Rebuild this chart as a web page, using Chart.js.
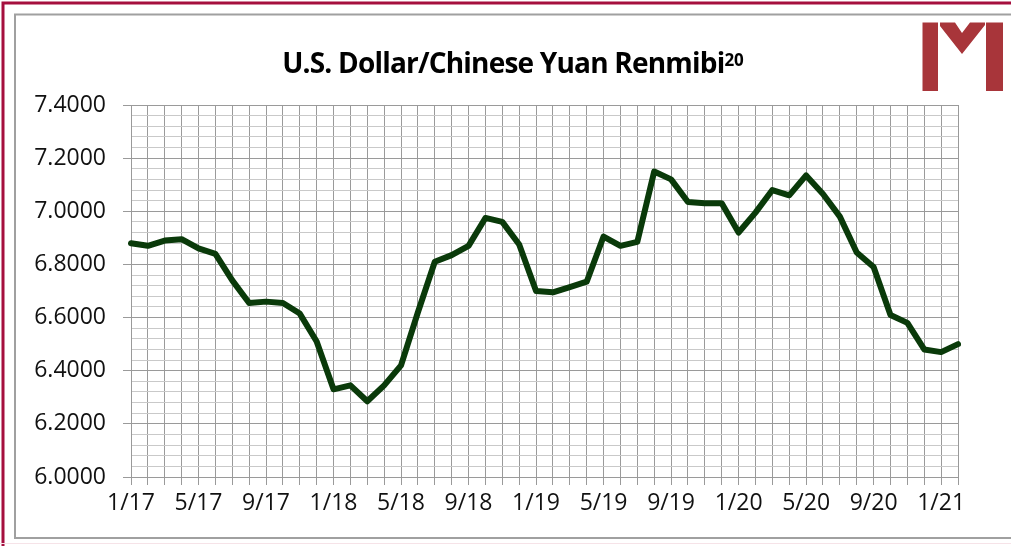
<!DOCTYPE html>
<html>
<head>
<meta charset="utf-8">
<script src="https://cdn.jsdelivr.net/npm/chart.js@4/dist/chart.umd.min.js"></script>
<style>
  html, body { margin: 0; padding: 0; background: #fff; }
  #wrap { position: relative; width: 1011px; height: 546px; overflow: hidden; background: #fff; }
  #c { position: absolute; left: 0; top: 0; }
  #deco { position: absolute; left: 0; top: 0; pointer-events: none; }
  #title { position: absolute; left: 513px; top: 45px; transform: translateX(-50%);
           font-family: "Open Sans", "DejaVu Sans", sans-serif; font-weight: 700; font-size: 28px;
           line-height: 34px; color: #000; white-space: nowrap; letter-spacing: -0.8px; }
  #title sup { font-size: 17px; position: relative; top: -2px; vertical-align: top; letter-spacing: 0; }
</style>
</head>
<body>
<div id="wrap">
  <canvas id="c" width="1011" height="546"></canvas>
  <svg id="deco" width="1011" height="546" viewBox="0 0 1011 546">
    <rect x="3" y="3" width="1020" height="560" fill="none" stroke="#A50F3E" stroke-width="3"/>
    <rect x="15" y="14.5" width="1010" height="523.5" fill="none" stroke="#A0A0A0" stroke-width="2"/>
    <line x1="0" y1="543.5" x2="1011" y2="543.5" stroke="#F6E3E8" stroke-width="1"/>
    <g fill="#A8353A">
      <rect x="922.5" y="22.5" width="15.5" height="68.5"/>
      <rect x="986" y="22.5" width="17" height="68.5"/>
      <polygon points="940,22.5 955,22.5 962,33 970,22.5 985,22.5 985,25 962,54 940,26"/>
    </g>
  </svg>
  <div id="title">U.S. Dollar/Chinese Yuan Renmibi<sup>20</sup></div>
</div>
<script>
const categories = [
  "1/17","2/17","3/17","4/17","5/17","6/17","7/17","8/17","9/17","10/17","11/17","12/17",
  "1/18","2/18","3/18","4/18","5/18","6/18","7/18","8/18","9/18","10/18","11/18","12/18",
  "1/19","2/19","3/19","4/19","5/19","6/19","7/19","8/19","9/19","10/19","11/19","12/19",
  "1/20","2/20","3/20","4/20","5/20","6/20","7/20","8/20","9/20","10/20","11/20","12/20",
  "1/21","2/21"
];
const usdCny = [
  6.880, 6.870, 6.890, 6.895, 6.860, 6.840, 6.740, 6.655, 6.660, 6.655, 6.615, 6.510,
  6.330, 6.345, 6.285, 6.345, 6.420, 6.620, 6.810, 6.835, 6.870, 6.975, 6.960, 6.875,
  6.700, 6.695, 6.715, 6.735, 6.905, 6.870, 6.885, 7.150, 7.120, 7.035, 7.030, 7.030,
  6.920, 6.995, 7.080, 7.060, 7.135, 7.065, 6.980, 6.845, 6.790, 6.610, 6.580, 6.480,
  6.470, 6.500
];
const xTickLabels = ["1/17","5/17","9/17","1/18","5/18","9/18","1/19","5/19","9/19","1/20","5/20","9/20","1/21"];
const yMin = 6.0, yMax = 7.4, yMajorStep = 0.2, yMinorStep = 0.04;

const isMajor = v => Math.abs(v / yMajorStep - Math.round(v / yMajorStep)) < 1e-6;
const tickFont = { family: "'Open Sans', 'DejaVu Sans', sans-serif", size: 23 };

new Chart(document.getElementById('c'), {
  type: 'line',
  data: {
    labels: categories,
    datasets: [{
      data: usdCny,
      borderColor: '#0A3A0A',
      borderWidth: 6,
      pointRadius: 0,
      tension: 0,
      fill: false,
      borderJoinStyle: 'round',
      borderCapStyle: 'round'
    }]
  },
  options: {
    responsive: false,
    devicePixelRatio: 1,
    animation: false,
    layout: { padding: { left: 0, right: 53, top: 105, bottom: 0 } },
    plugins: { legend: { display: false }, tooltip: { enabled: false }, title: { display: false } },
    scales: {
      x: {
        type: 'category',
        offset: false,
        afterFit: s => { s.height = 69; },
        grid: { color: '#9A9A9A', lineWidth: 1, drawTicks: true, tickLength: 8, tickColor: '#9A9A9A' },
        border: { color: '#9A9A9A', width: 1 },
        ticks: {
          autoSkip: false, maxRotation: 0, minRotation: 0, padding: 5,
          color: '#111', font: tickFont,
          callback: function (v, i) { const l = categories[i]; return xTickLabels.includes(l) ? l : ''; }
        }
      },
      y: {
        min: yMin, max: yMax,
        afterFit: s => { s.width = 131; },
        grid: {
          color: ctx => isMajor(ctx.tick.value) ? '#9A9A9A' : '#C9C9C9',
          lineWidth: 1,
          drawTicks: true, tickLength: 8,
          tickColor: ctx => isMajor(ctx.tick.value) ? '#9A9A9A' : 'rgba(0,0,0,0)'
        },
        border: { color: '#9A9A9A', width: 1 },
        ticks: {
          stepSize: yMinorStep, autoSkip: false, padding: 17,
          color: '#111', font: tickFont,
          callback: v => isMajor(v) ? v.toFixed(4) : ''
        }
      }
    }
  }
});
</script>
</body>
</html>
